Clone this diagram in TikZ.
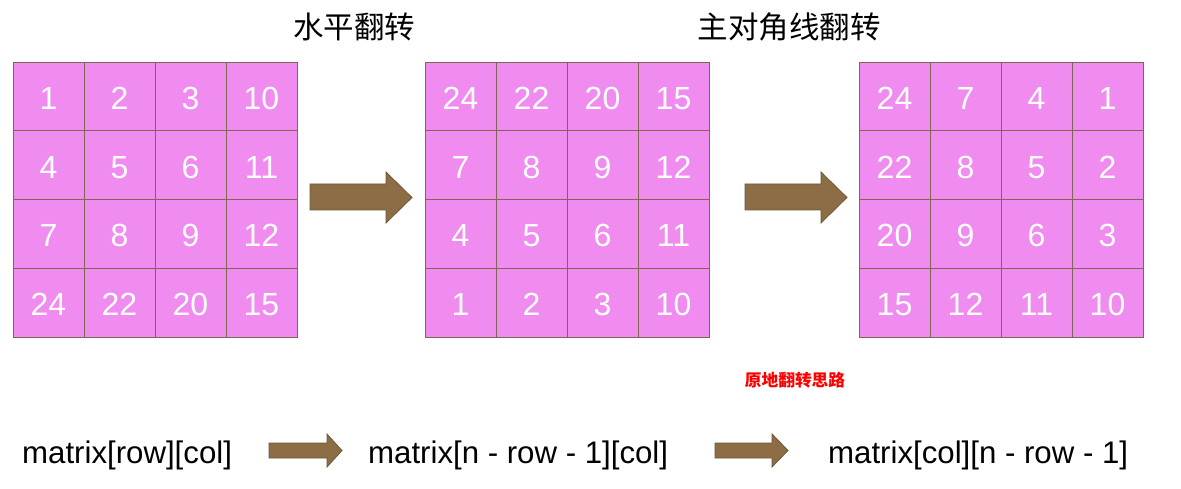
\documentclass[tikz,border=0pt]{standalone}
\usepackage{fontspec}
\setmainfont{Liberation Sans}
\newfontfamily\cjk{Noto Sans CJK SC}
\definecolor{cellpink}{HTML}{F08CF0}
\definecolor{cellline}{HTML}{806454}
\definecolor{arrfill}{HTML}{8C6D45}
\definecolor{arrline}{HTML}{6E5836}
\tikzset{
  cell/.style={draw=cellline, line width=0.9pt, fill=cellpink, minimum width=71pt, minimum height=68.75pt, inner sep=0pt, text height=26pt, text depth=0pt, text=white, font=\fontsize{32}{32}\selectfont},
  blockarrow/.style={fill=arrfill, draw=arrline, line width=0.8pt, line join=miter},
  title/.style={font=\cjk\fontsize{30.5}{30.5}\selectfont, inner sep=0pt},
  code/.style={font=\fontsize{31.2}{31.2}\selectfont, inner sep=0pt, anchor=base west}
}
\newcommand{\drawgrid}[3]{%
  \foreach \v [count=\i from 0] in {#3} {
    \pgfmathtruncatemacro{\cc}{mod(\i,4)}
    \pgfmathtruncatemacro{\rr}{int(\i/4)}
    \node[cell] (#1-\rr-\cc) at ({#2+35.5+71*\cc},{62+34.375+68.75*\rr}) {\v};
  }%
}
\begin{document}
\begin{tikzpicture}[x=1pt,y=-1pt]
\useasboundingbox (0,0) rectangle (1181,489);
\fill[white] (0,0) rectangle (1181,489);
\node[title] (t1) at (354,27) {水平翻转};
\node[title] (t2) at (789,27) {主对角线翻转};
\drawgrid{ga}{13}{1,2,3,10,4,5,6,11,7,8,9,12,24,22,20,15}
\drawgrid{gb}{425}{24,22,20,15,7,8,9,12,4,5,6,11,1,2,3,10}
\drawgrid{gc}{859}{24,7,4,1,22,8,5,2,20,9,6,3,15,12,11,10}
% big arrows
\draw[blockarrow] (310,184) -- (386,184) -- (386,172) -- (412,197.5) -- (386,223) -- (386,210) -- (310,210) -- cycle;
\draw[blockarrow] (745,184) -- (821,184) -- (821,172) -- (847,197.5) -- (821,223) -- (821,210) -- (745,210) -- cycle;
% red note
\node[font=\cjk\bfseries\fontsize{16.7}{16.7}\selectfont, text=red, inner sep=0pt] (note) at (795,380) {原地翻转思路};
% bottom formulas
\node[code] (f1) at (22,463) {matrix[row][col]};
\node[code] (f2) at (368,463) {matrix[n - row - 1][col]};
\node[code] (f3) at (828,463) {matrix[col][n - row - 1]};
\draw[blockarrow] (269,443) -- (327,443) -- (327,434) -- (342,450.5) -- (327,467) -- (327,458) -- (269,458) -- cycle;
\draw[blockarrow] (715,443) -- (772,443) -- (772,434) -- (788,450.5) -- (772,467) -- (772,458) -- (715,458) -- cycle;
\end{tikzpicture}
\end{document}
